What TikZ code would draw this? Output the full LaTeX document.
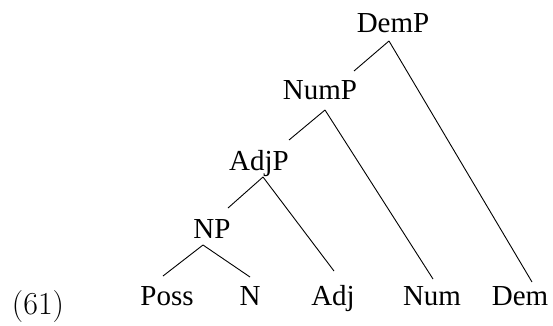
\documentclass[tikz,border=0pt]{standalone}
\usepackage{fontspec}
\newfontfamily\treefont{Liberation Serif}
\usetikzlibrary{calc}
\begin{document}
\begin{tikzpicture}[x=1pt,y=-1pt,
  lbl/.style={anchor=base,inner sep=0pt,font=\treefont\fontsize{29}{34}\selectfont},
  edge/.style={draw=black,line width=0.9pt}]
\useasboundingbox (0,0) rectangle (553,325);
% phrase labels
\node[lbl] (DemP) at (393,32)  {DemP};
\node[lbl] (NumP) at (320,99)  {NumP};
\node[lbl] (AdjP) at (259,170) {AdjP};
\node[lbl] (NP)   at (212,238) {NP};
% terminals
\node[lbl] (Poss) at (167,305) {Poss};
\node[lbl] (N)    at (250,305) {N};
\node[lbl] (Adj)  at (333,305) {Adj};
\node[lbl] (Num)  at (432,305) {Num};
\node[lbl] (Dem)  at (520,305) {Dem};
% example number
\node[anchor=base,inner sep=0pt,font=\fontsize{32}{38}\selectfont] (ex) at (38,314) {(61)};
% branches
\draw[edge] ($(DemP.base)+(-4,9)$) -- ($(NumP.base)+(34,-28)$);
\draw[edge] ($(DemP.base)+(-4,9)$) -- ($(Dem.base)+(12,-23)$);
\draw[edge] ($(NumP.base)+(5,11)$) -- ($(AdjP.base)+(30,-30)$);
\draw[edge] ($(NumP.base)+(5,11)$) -- ($(Num.base)+(1,-26)$);
\draw[edge] ($(AdjP.base)+(4,7)$)  -- ($(NP.base)+(16,-30)$);
\draw[edge] ($(AdjP.base)+(4,7)$)  -- ($(Adj.base)+(1,-34)$);
\draw[edge] ($(NP.base)+(-9,7)$)   -- ($(Poss.base)+(-4,-29)$);
\draw[edge] ($(NP.base)+(-9,7)$)   -- ($(N.base)+(0,-28)$);
\end{tikzpicture}
\end{document}
